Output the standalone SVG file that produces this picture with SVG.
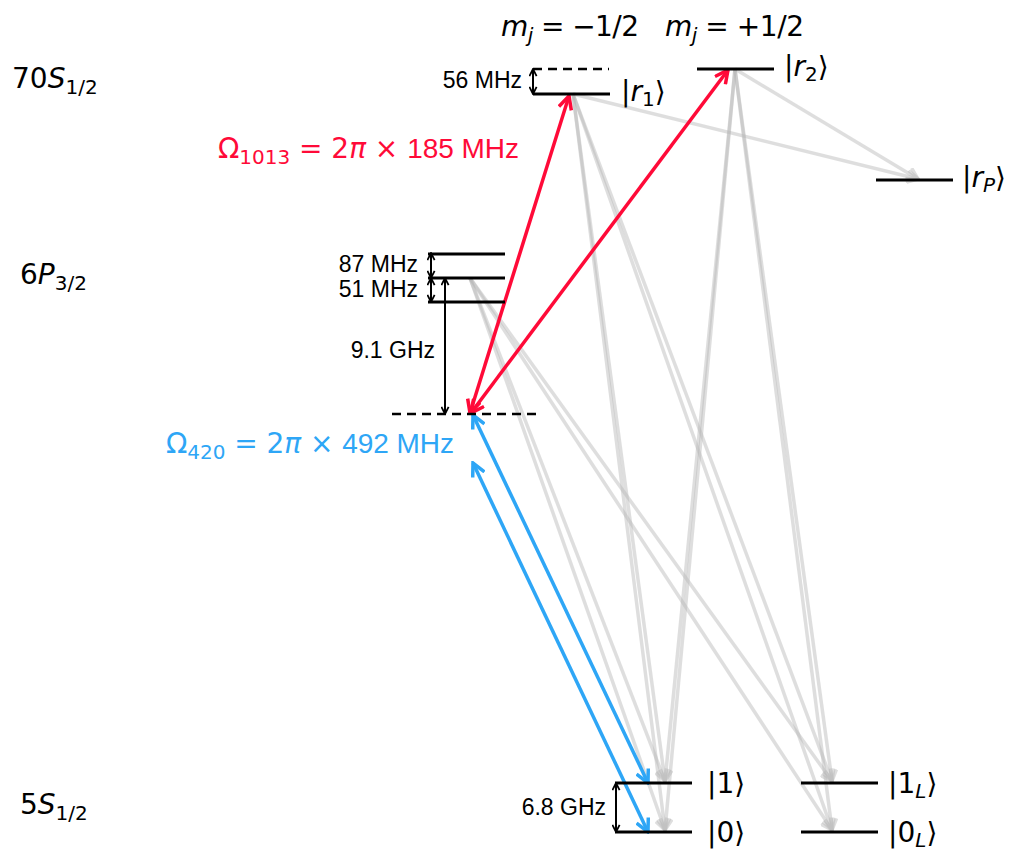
<svg xmlns="http://www.w3.org/2000/svg" width="1015" height="850" viewBox="0 0 1015 850">
<style>
.lv{stroke:#000;stroke-width:3;fill:none}
.dash{stroke:#000;stroke-width:2.5;stroke-dasharray:9,6;fill:none}
.m{font-family:"DejaVu Sans",sans-serif;font-size:28px;fill:#000}
.it{font-style:italic}
.hz{font-family:"Liberation Sans",Arial,sans-serif;font-size:23px;fill:#000}
.gr{stroke:#b8b8b8;stroke-width:3.5;fill:none;opacity:0.45}
.red{stroke:#ff0a38;stroke-width:3.5;fill:none}
.blue{stroke:#2ea6f6;stroke-width:3.5;fill:none}
.blk{stroke:#000;stroke-width:2;fill:none}
</style>
<defs>
<marker id="hg" viewBox="0 0 14 14" refX="12" refY="7" markerWidth="14" markerHeight="14" markerUnits="userSpaceOnUse" orient="auto-start-reverse"><path d="M1,1 L12,7 L1,13" fill="none" stroke="#b8b8b8" stroke-width="3.5"/></marker>
<marker id="hr" viewBox="0 0 16 16" refX="14" refY="8" markerWidth="16" markerHeight="16" markerUnits="userSpaceOnUse" orient="auto-start-reverse"><path d="M1,1.5 L14,8 L1,14.5" fill="none" stroke="#ff0a38" stroke-width="3.5"/></marker>
<marker id="hb" viewBox="0 0 16 16" refX="14" refY="8" markerWidth="16" markerHeight="16" markerUnits="userSpaceOnUse" orient="auto-start-reverse"><path d="M1,1.5 L14,8 L1,14.5" fill="none" stroke="#2ea6f6" stroke-width="3.5"/></marker>
<marker id="hk" viewBox="0 0 10 10" refX="9" refY="5" markerWidth="9" markerHeight="9" markerUnits="userSpaceOnUse" orient="auto-start-reverse"><path d="M1,1 L9,5 L1,9" fill="none" stroke="#000" stroke-width="2"/></marker>
</defs>

<g id="connectors">
  <path class="gr" d="M573,94 L665,781" marker-end="url(#hg)"/>
  <path class="gr" d="M573,94 L665,830" marker-end="url(#hg)"/>
  <path class="gr" d="M573,94 L832,781" marker-end="url(#hg)"/>
  <path class="gr" d="M573,94 L832,830" marker-end="url(#hg)"/>
  <path class="gr" d="M573,94 L918,179" marker-end="url(#hg)"/>
  <path class="gr" d="M735,69 L665,781" marker-end="url(#hg)"/>
  <path class="gr" d="M735,69 L665,830" marker-end="url(#hg)"/>
  <path class="gr" d="M735,69 L832,781" marker-end="url(#hg)"/>
  <path class="gr" d="M735,69 L832,830" marker-end="url(#hg)"/>
  <path class="gr" d="M735,69 L918,179" marker-end="url(#hg)"/>
  <path class="gr" d="M470,278 L665,781" marker-end="url(#hg)"/>
  <path class="gr" d="M470,278 L665,830" marker-end="url(#hg)"/>
  <path class="gr" d="M470,278 L832,781" marker-end="url(#hg)"/>
  <path class="gr" d="M470,278 L832,830" marker-end="url(#hg)"/>
  <path class="red" d="M470,413 L569,96" marker-start="url(#hr)" marker-end="url(#hr)"/>
  <path class="red" d="M471,413 L728,70" marker-start="url(#hr)" marker-end="url(#hr)"/>
  <path class="blue" d="M473,415 L648,783" marker-start="url(#hb)" marker-end="url(#hb)"/>
  <path class="blue" d="M473,463 L648,832" marker-start="url(#hb)" marker-end="url(#hb)"/>
  <path class="blk" d="M533,69 L533,94" marker-start="url(#hk)" marker-end="url(#hk)"/>
  <path class="blk" d="M431,253 L431,278" marker-start="url(#hk)" marker-end="url(#hk)"/>
  <path class="blk" d="M431,278 L431,302" marker-start="url(#hk)" marker-end="url(#hk)"/>
  <path class="blk" d="M445,278 L445,414" marker-start="url(#hk)" marker-end="url(#hk)"/>
  <path class="blk" d="M616,783 L616,832" marker-start="url(#hk)" marker-end="url(#hk)"/>
</g>

<g id="mj-labels">
  <text class="m" x="501" y="36" textLength="138"><tspan class="it">m</tspan><tspan class="it" font-size="20" dy="6">j</tspan><tspan dy="-6"> = −1/2</tspan></text>
  <text class="m" x="665" y="36" textLength="139"><tspan class="it">m</tspan><tspan class="it" font-size="20" dy="6">j</tspan><tspan dy="-6"> = +1/2</tspan></text>
</g>

<g id="manifold-labels">
  <text class="m" x="12" y="88">70<tspan class="it">S</tspan><tspan font-size="20" dy="6">1/2</tspan></text>
  <text class="m" x="20" y="284">6<tspan class="it">P</tspan><tspan font-size="20" dy="6">3/2</tspan></text>
  <text class="m" x="20" y="814">5<tspan class="it">S</tspan><tspan font-size="20" dy="6">1/2</tspan></text>
</g>

<g id="r1">
  <line class="dash" x1="533" y1="69" x2="609" y2="69"/>
  <line class="lv" x1="533" y1="94" x2="610" y2="94"/>
  <text class="hz" x="522" y="88" text-anchor="end">56 MHz</text>
  <text class="m" x="621" y="101">|<tspan class="it">r</tspan><tspan font-size="20" dy="5">1</tspan><tspan dy="-5">⟩</tspan></text>
</g>

<g id="r2">
  <line class="lv" x1="697" y1="69" x2="774" y2="69"/>
  <text class="m" x="784" y="76">|<tspan class="it">r</tspan><tspan font-size="20" dy="5">2</tspan><tspan dy="-5">⟩</tspan></text>
</g>

<g id="rP">
  <line class="lv" x1="876" y1="180" x2="953" y2="180"/>
  <text class="m" x="962" y="187">|<tspan class="it">r</tspan><tspan class="it" font-size="20" dy="5">P</tspan><tspan dy="-5">⟩</tspan></text>
</g>

<g id="p-levels">
  <line class="lv" x1="428" y1="254" x2="505" y2="254"/>
  <line class="lv" x1="428" y1="278" x2="505" y2="278"/>
  <line class="lv" x1="428" y1="302" x2="505" y2="302"/>
  <text class="hz" x="418" y="272" text-anchor="end">87 MHz</text>
  <text class="hz" x="418" y="297" text-anchor="end">51 MHz</text>
  <text class="hz" x="435" y="358" text-anchor="end">9.1 GHz</text>
</g>

<g id="intermediate">
  <line class="dash" x1="392" y1="414" x2="542" y2="414"/>
</g>

<g id="red-label">
  <text x="218" y="158" fill="#ff0a38" font-family="DejaVu Sans,sans-serif" font-size="28" textLength="301">Ω<tspan font-size="20" dy="6">1013</tspan><tspan dy="-6"> = 2</tspan><tspan class="it">π</tspan> × <tspan font-family="Liberation Sans,Arial,sans-serif">185 MHz</tspan></text>
</g>

<g id="blue-label">
  <text x="166" y="453" fill="#2ea6f6" font-family="DejaVu Sans,sans-serif" font-size="28" textLength="288">Ω<tspan font-size="20" dy="6">420</tspan><tspan dy="-6"> = 2</tspan><tspan class="it">π</tspan> × <tspan font-family="Liberation Sans,Arial,sans-serif">492 MHz</tspan></text>
</g>

<g id="q1">
  <line class="lv" x1="615" y1="783" x2="692" y2="783"/>
  <text class="m" x="707" y="793">|1⟩</text>
</g>
<g id="q0">
  <line class="lv" x1="615" y1="832" x2="692" y2="832"/>
  <text class="m" x="707" y="842">|0⟩</text>
  <text class="hz" x="606" y="815" text-anchor="end">6.8 GHz</text>
</g>
<g id="q1L">
  <line class="lv" x1="801" y1="783" x2="878" y2="783"/>
  <text class="m" x="888" y="793">|1<tspan class="it" font-size="20" dy="5">L</tspan><tspan dy="-5">⟩</tspan></text>
</g>
<g id="q0L">
  <line class="lv" x1="801" y1="832" x2="878" y2="832"/>
  <text class="m" x="888" y="842">|0<tspan class="it" font-size="20" dy="5">L</tspan><tspan dy="-5">⟩</tspan></text>
</g>
</svg>
